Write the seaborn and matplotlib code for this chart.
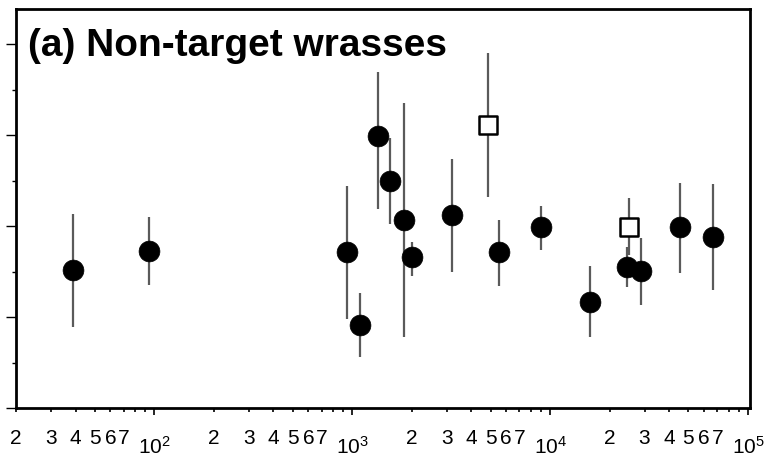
import numpy as np
import pandas as pd
import matplotlib
matplotlib.use("Agg")
import matplotlib.pyplot as plt
import matplotlib.ticker as mticker
import seaborn as sns

# ---- data ----
x_vals = [39.0, 93.6, 946, 1095, 1351, 1554, 1816, 1994, 3179, 4837,
          5518, 9006, 15940, 25120, 24540, 28900, 45360, 66880]
y_vals = [1.516, 1.729, 1.718, 0.912, 2.989, 2.498, 2.066, 1.656, 2.121, 3.110,
          1.711, 1.986, 1.168, 1.992, 1.553, 1.509, 1.986, 1.882]
y_low = [0.887, 1.352, 0.975, 0.557, 2.187, 2.025, 0.777, 1.454, 1.491, 2.322,
         1.341, 1.736, 0.777, 1.681, 1.333, 1.132, 1.487, 1.297]
y_high = [2.132, 2.096, 2.443, 1.260, 3.696, 2.964, 3.348, 1.827, 2.736, 3.898,
          2.066, 2.220, 1.560, 2.311, 1.773, 1.865, 2.476, 2.458]
group = ["filled", "filled", "filled", "filled", "filled", "filled", "filled", "filled",
         "filled", "open", "filled", "filled", "filled", "open", "filled", "filled",
         "filled", "filled"]
title_text = "(a) Non-target wrasses"

df = pd.DataFrame({"x": x_vals, "y": y_vals, "lo": y_low, "hi": y_high, "group": group})

sns.set_theme(style="white")
plt.rcParams["font.family"] = ["Liberation Sans", "DejaVu Sans"]
plt.rcParams["mathtext.fontset"] = "custom"
plt.rcParams["mathtext.rm"] = "Liberation Sans"
plt.rcParams["mathtext.it"] = "Liberation Sans"
plt.rcParams["mathtext.default"] = "regular"

fig = plt.figure(figsize=(7.69, 4.58), dpi=100)
ax = fig.add_axes([16 / 769, 50 / 458, (750 - 16) / 769, (408 - 9) / 458])

# error bars
ax.vlines(df["x"], df["lo"], df["hi"], color="#5a5a5a", linewidth=1.6, zorder=1)

filled = df[df["group"] == "filled"]
opened = df[df["group"] == "open"]
sns.scatterplot(data=filled, x="x", y="y", ax=ax, marker="o", s=15 ** 2,
                color="black", edgecolor="black", linewidth=0.5, zorder=3, legend=False)
sns.scatterplot(data=opened, x="x", y="y", ax=ax, marker="s", s=12.5 ** 2,
                facecolor="white", edgecolor="black", linewidth=1.8, zorder=3, legend=False)

ax.set_xscale("log")
ax.set_xlim(20, 10 ** 5.01)
ax.set_ylim(0, 4.385)
ax.set_xlabel("")
ax.set_ylabel("")

# x ticks
ax.xaxis.set_major_locator(mticker.LogLocator(base=10, numticks=10))
ax.xaxis.set_major_formatter(mticker.FuncFormatter(lambda v, p: r"$10^{%d}$" % round(np.log10(v))))
ax.xaxis.set_minor_locator(mticker.LogLocator(base=10, subs=np.arange(2, 10), numticks=20))


def minor_fmt(v, p):
    d = int(round(v / 10 ** np.floor(np.log10(v) + 1e-9)))
    return str(d) if d <= 7 else ""


ax.xaxis.set_minor_formatter(mticker.FuncFormatter(minor_fmt))

# y ticks (no labels)
ax.yaxis.set_major_locator(mticker.MultipleLocator(1))
ax.yaxis.set_minor_locator(mticker.MultipleLocator(0.5))
ax.yaxis.set_major_formatter(mticker.NullFormatter())

ax.tick_params(axis="x", which="major", direction="out", length=5, width=1.2,
               labelsize=15, pad=15, colors="black", bottom=True)
ax.tick_params(axis="x", which="minor", direction="out", length=3, width=1.2,
               labelsize=15, pad=12, colors="black", bottom=True)
ax.tick_params(axis="y", which="major", direction="out", length=7, width=1.0,
               left=True, colors="black")
ax.tick_params(axis="y", which="minor", direction="out", length=3, width=1.0,
               left=True, colors="black")

for s in ax.spines.values():
    s.set_visible(True)
    s.set_color("black")
    s.set_linewidth(2.0)

ax.text(12 / 734, (408 - 46) / 399, title_text, transform=ax.transAxes,
        fontsize=28, fontweight="bold", va="center", ha="left", color="black")

fig.savefig("out.png", dpi=100)
